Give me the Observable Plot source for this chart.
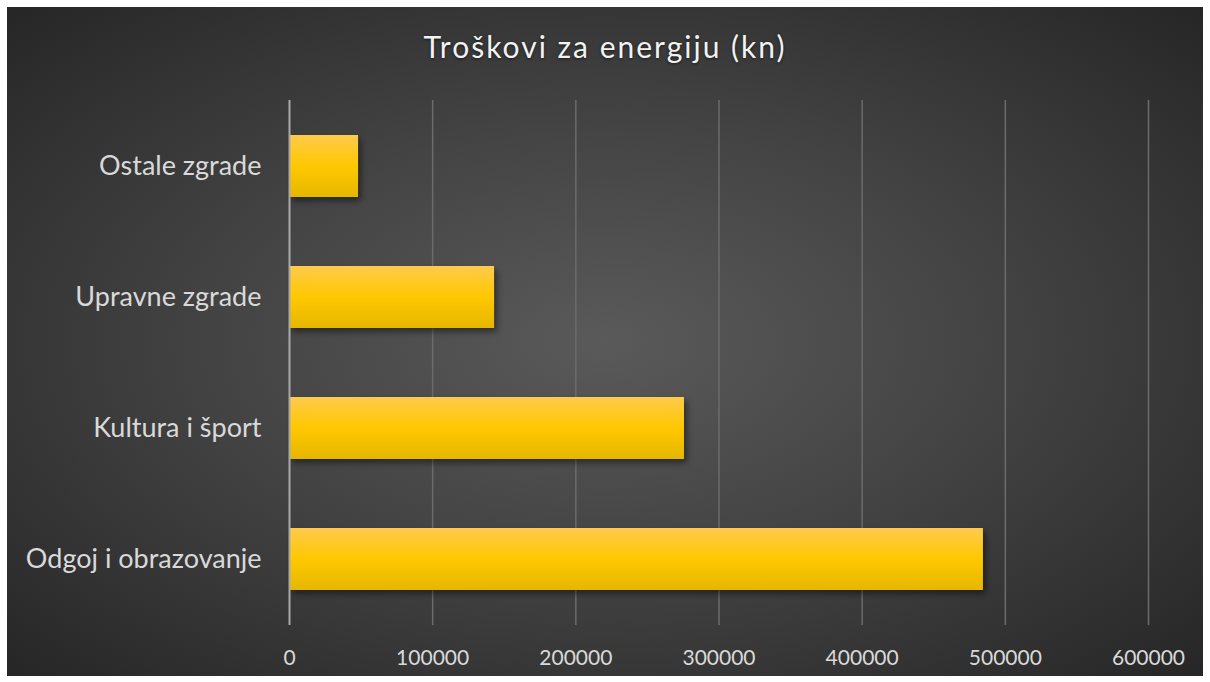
<!DOCTYPE html>
<html>
<head>
<meta charset="utf-8">
<script src="https://cdn.jsdelivr.net/npm/d3@7"></script>
<script src="https://cdn.jsdelivr.net/npm/@observablehq/plot@0.6"></script>
<style>
  html, body { margin: 0; padding: 0; background: #ffffff; }
  #frame {
    position: absolute; left: 7px; top: 7px; width: 1196px; height: 669px;
    background: radial-gradient(ellipse farthest-corner at 50% 50%, #5a5a5a 0%, #444444 45%, #262626 100%);
  }
  #title {
    position: absolute; left: 0; top: 28px; width: 1210px; text-align: center;
    font-family: Lato, "Open Sans", sans-serif; font-size: 30px; letter-spacing: 2px;
    color: #f2f2f2; text-shadow: 0 1px 3px rgba(0,0,0,0.6);
  }
  #chart { position: absolute; left: 0; top: 80px; }
</style>
</head>
<body>
<div id="frame"></div>
<div id="title">Troškovi za energiju (kn)</div>
<div id="chart"></div>
<script>
// Energy costs per building group, in kuna
const categories = ["Ostale zgrade", "Upravne zgrade", "Kultura i šport", "Odgoj i obrazovanje"];
const costs = [48200, 143200, 275900, 484700];
const xTicks = [0, 100000, 200000, 300000, 400000, 500000, 600000];

const data = categories.map((category, i) => ({category, cost: costs[i]}));

// Gradient and shadow definitions shared by the bars
const defs = () => {
  const g = d3.create("svg:defs");
  const grad = g.append("linearGradient")
    .attr("id", "barGrad").attr("x1", 0).attr("y1", 0).attr("x2", 0).attr("y2", 1);
  grad.append("stop").attr("offset", "0%").attr("stop-color", "#ffca4c");
  grad.append("stop").attr("offset", "50%").attr("stop-color", "#ffc800");
  grad.append("stop").attr("offset", "100%").attr("stop-color", "#e6b700");
  const f = g.append("filter").attr("id", "barShadow")
    .attr("x", "-10%").attr("y", "-20%").attr("width", "130%").attr("height", "160%");
  f.append("feDropShadow").attr("dx", 3).attr("dy", 4).attr("stdDeviation", 3)
    .attr("flood-color", "#000").attr("flood-opacity", 0.45);
  return g.node();
};

const chart = Plot.plot({
  width: 1210,
  height: 596,
  marginLeft: 289,
  marginRight: 62,
  marginTop: 20,
  marginBottom: 51,
  style: {background: "transparent", fontFamily: "Lato, 'Open Sans', sans-serif", color: "#d9d9d9"},
  x: {domain: [0, 600000], ticks: xTicks, label: null},
  y: {domain: categories, paddingInner: 0.527, paddingOuter: 0.265, label: null},
  marks: [
    defs,
    Plot.gridX(xTicks.slice(1), {stroke: "#6b6b6b", strokeOpacity: 1, strokeWidth: 1.5}),
    Plot.barX(data, {x: "cost", y: "category", fill: "url(#barGrad)"}),
    Plot.ruleX([0], {stroke: "#a9a9a9", strokeWidth: 2}),
    Plot.axisX(xTicks, {tickSize: 0, tickPadding: 25, fontSize: 21, fill: "#d9d9d9", tickFormat: d => String(d), label: null}),
    Plot.axisY({tickSize: 0, tickPadding: 28, fontSize: 27, fill: "#d9d9d9", label: null})
  ]
});

d3.select(chart).selectAll("g[aria-label='bar'] rect").attr("filter", "url(#barShadow)");
document.getElementById("chart").append(chart);
</script>
</body>
</html>
